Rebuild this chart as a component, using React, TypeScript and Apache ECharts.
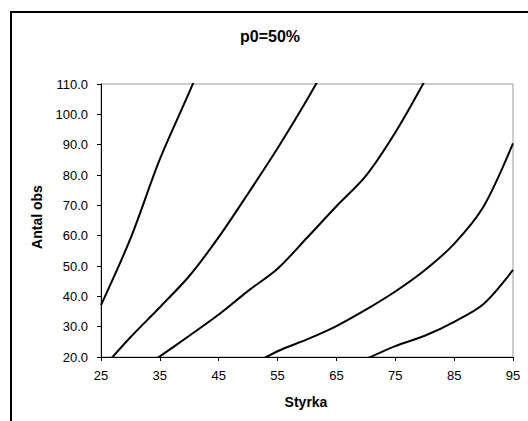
import React, { useEffect, useRef } from "react";
import * as echarts from "echarts";

const title = "p0=50%";
const xName = "Styrka";
const yName = "Antal obs";
const xs = [25, 30, 35, 40, 45, 50, 55, 60, 65, 70, 75, 80, 85, 90, 95];
const s1 = [37.1, 59, 85.2, 107.3, 130, null, null, null, null, null, null, null, null, null, null];
const s2 = [15.7, 26.5, 36.4, 46.7, 59.5, 73.9, 88.8, 104.8, 122, null, null, null, null, null, null];
const s3 = [null, 13.4, 20.2, 27.0, 34.0, 41.8, 49.1, 59.3, 69.7, 79.7, 94.0, 111, null, null, null];
const s4 = [null, null, null, null, null, 16.6, 21.9, 25.8, 30.2, 35.6, 41.6, 48.6, 57.3, 69.6, 90.4];
const s5 = [null, null, null, null, null, null, null, null, null, 19.3, 23.6, 27.0, 31.6, 37.5, 48.7];
const seriesList = [s1, s2, s3, s4, s5];

const FONT = "'Liberation Sans', Arial, sans-serif";

export default function App() {
  const ref = useRef<HTMLDivElement>(null);
  useEffect(() => {
    if (!ref.current) return;
    const chart = echarts.init(ref.current, null, { renderer: "svg" });
    chart.setOption({
      animation: false,
      backgroundColor: "#fff",
      grid: {
        left: 101,
        top: 84,
        right: 15,
        bottom: 64,
        show: true,
        borderColor: "#999",
        borderWidth: 1,
      },
      xAxis: {
        type: "value",
        min: 25,
        max: 95,
        interval: 10,
        axisLine: { show: true, onZero: false, lineStyle: { color: "#000", width: 1 } },
        axisTick: { show: true, length: 4, lineStyle: { color: "#000" } },
        axisLabel: { color: "#000", fontSize: 13, fontFamily: FONT, margin: 12 },
        splitLine: { show: false },
      },
      yAxis: {
        type: "value",
        min: 20,
        max: 110,
        interval: 10,
        axisLine: { show: true, onZero: false, lineStyle: { color: "#000", width: 1 } },
        axisTick: { show: true, length: 4, lineStyle: { color: "#000" } },
        axisLabel: {
          color: "#000",
          fontSize: 13,
          fontFamily: FONT,
          margin: 13,
          formatter: (v: number) => v.toFixed(1),
        },
        splitLine: { show: false },
      },
      series: seriesList.map((s) => ({
        type: "line",
        data: xs
          .map((x, i) => [x, s[i]])
          .filter((p) => p[1] !== null),
        showSymbol: false,
        symbol: "none",
        clip: true,
        smooth: 0.3,
        lineStyle: { color: "#000", width: 2 },
      })),
      graphic: [
        {
          type: "rect",
          shape: { x: 11, y: 12, width: 600, height: 500 },
          style: { fill: "none", stroke: "#000", lineWidth: 2 },
          silent: true,
        },
        {
          type: "text",
          x: 270,
          y: 36,
          style: {
            text: title,
            fontSize: 16,
            fontWeight: "bold",
            fontFamily: FONT,
            fill: "#000",
            align: "center",
            verticalAlign: "middle",
          },
        },
        {
          type: "text",
          x: 306,
          y: 402,
          style: {
            text: xName,
            fontSize: 14,
            fontWeight: "bold",
            fontFamily: FONT,
            fill: "#000",
            align: "center",
            verticalAlign: "middle",
          },
        },
        {
          type: "text",
          x: 37,
          y: 217,
          rotation: Math.PI / 2,
          style: {
            text: yName,
            fontSize: 14,
            fontWeight: "bold",
            fontFamily: FONT,
            fill: "#000",
            align: "center",
            verticalAlign: "middle",
          },
        },
      ],
    });
    return () => chart.dispose();
  }, []);
  return (
    <div
      ref={ref}
      style={{ position: "fixed", left: 0, top: 0, width: 528, height: 421 }}
    />
  );
}
